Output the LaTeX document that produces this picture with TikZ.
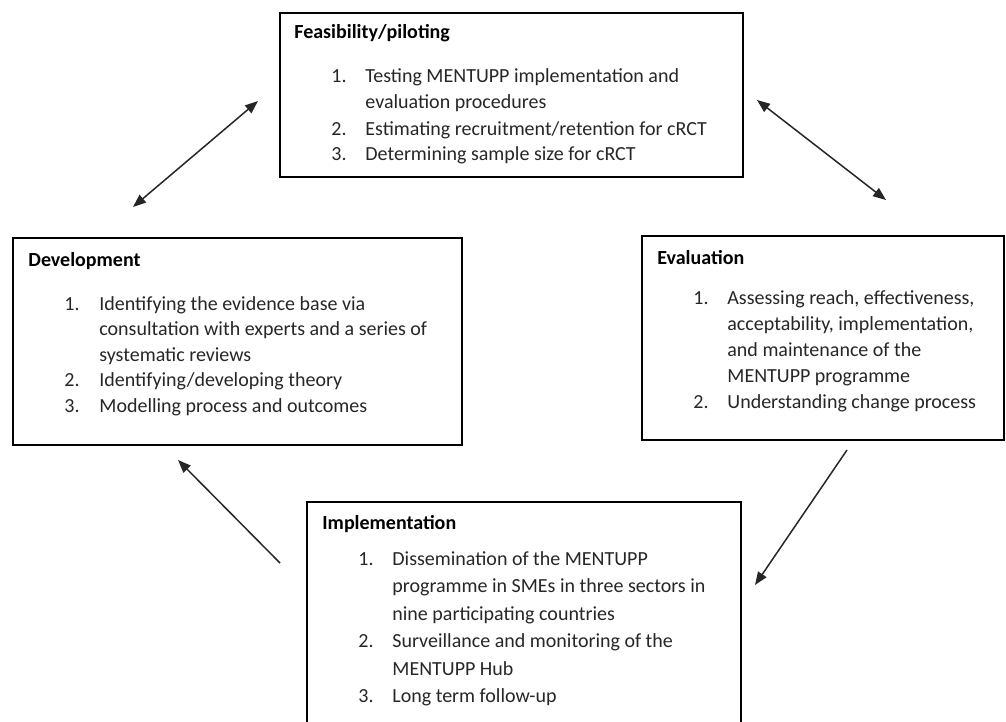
\documentclass[tikz,border=0pt]{standalone}
\usepackage{fontspec}
\setmainfont{Carlito}
\usetikzlibrary{arrows.meta,fit}
\begin{document}
\begin{tikzpicture}[x=0.5pt,y=-0.5pt,
  box/.style={draw=black, line width=0.7pt, inner sep=0pt},
  txt/.style={anchor=base west, inner sep=0pt, font=\fontsize{10}{12}\selectfont, text=black!85},
  ttl/.style={anchor=base west, inner sep=0pt, font=\fontsize{10}{12}\selectfont\bfseries, text=black},
  tip/.tip={Triangle[length=6.5pt,width=5pt]},
  arr/.style={line width=0.75pt, draw=black!85, -tip},
  darr/.style={line width=0.75pt, draw=black!85, tip-tip}]
\useasboundingbox (0,0) rectangle (1006,722);
% boxes
\node[box, fit={(280,13) (743,177)}] (feas) {};
\node[box, fit={(13,238) (462,445)}] (dev) {};
\node[box, fit={(642,236) (1004,440)}] (eval) {};
\node[box, fit={(307,502) (741,740)}] (impl) {};
% Feasibility
\node[ttl] (feasT) at (294,39) {Feasibility/piloting};
\node[txt] (f1n) at (331,83) {1.};
\node[txt] (f1a) at (365,83) {Testing MENTUPP implementation and};
\node[txt] (f1b) at (365,109) {evaluation procedures};
\node[txt] (f2n) at (331,135) {2.};
\node[txt] (f2a) at (365,135) {Estimating recruitment/retention for cRCT};
\node[txt] (f3n) at (331,161) {3.};
\node[txt] (f3a) at (365,161) {Determining sample size for cRCT};
% Development
\node[ttl] (devT) at (28,266) {Development};
\node[txt] (d1n) at (64,310) {1.};
\node[txt] (d1a) at (99,310) {Identifying the evidence base via};
\node[txt] (d1b) at (99,335.5) {consultation with experts and a series of};
\node[txt] (d1c) at (99,361) {systematic reviews};
\node[txt] (d2n) at (64,386.5) {2.};
\node[txt] (d2a) at (99,386.5) {Identifying/developing theory};
\node[txt] (d3n) at (64,412) {3.};
\node[txt] (d3a) at (99,412) {Modelling process and outcomes};
% Evaluation
\node[ttl] (evalT) at (657,264) {Evaluation};
\node[txt] (e1n) at (693,304) {1.};
\node[txt] (e1a) at (727,304) {Assessing reach, effectiveness,};
\node[txt] (e1b) at (727,330) {acceptability, implementation,};
\node[txt] (e1c) at (727,356) {and maintenance of the};
\node[txt] (e1d) at (727,382) {MENTUPP programme};
\node[txt] (e2n) at (693,408) {2.};
\node[txt] (e2a) at (727,408) {Understanding change process};
% Implementation
\node[ttl] (implT) at (322,529) {Implementation};
\node[txt] (i1n) at (358,565) {1.};
\node[txt] (i1a) at (392,565) {Dissemination of the MENTUPP};
\node[txt] (i1b) at (392,592.5) {programme in SMEs in three sectors in};
\node[txt] (i1c) at (392,620) {nine participating countries};
\node[txt] (i2n) at (358,647.5) {2.};
\node[txt] (i2a) at (392,647.5) {Surveillance and monitoring of the};
\node[txt] (i2b) at (392,675) {MENTUPP Hub};
\node[txt] (i3n) at (358,702.5) {3.};
\node[txt] (i3a) at (392,702.5) {Long term follow-up};
% arrow end points
\coordinate (a1s) at (133,207);
\coordinate (a1e) at (258,101);
\coordinate (a2s) at (757,100);
\coordinate (a2e) at (886,200);
\coordinate (a3s) at (847,450);
\coordinate (a3e) at (755,585);
\coordinate (a4s) at (280,563);
\coordinate (a4e) at (178,460);
\draw[darr] (a1s) -- (a1e);
\draw[darr] (a2s) -- (a2e);
\draw[arr] (a3s) -- (a3e);
\draw[arr] (a4s) -- (a4e);
\end{tikzpicture}
\end{document}
